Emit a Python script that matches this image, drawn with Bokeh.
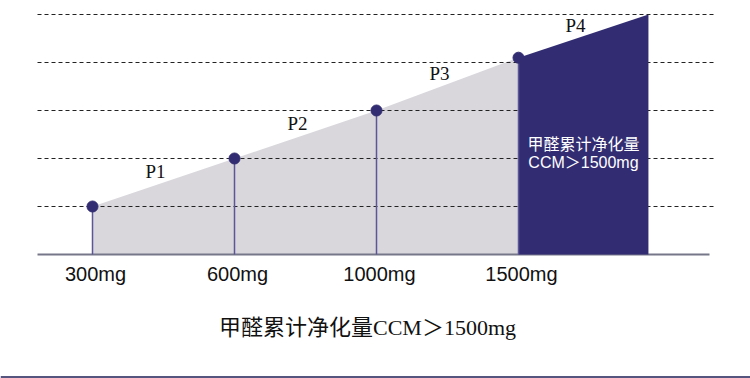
from bokeh.plotting import figure
from bokeh.models import ColumnDataSource, Span, Label
from bokeh.core.properties import value
from bokeh.embed import file_html
from bokeh.resources import INLINE

# ---- data ----
doses = ["300mg", "600mg", "1000mg", "1500mg"]
levels = [1.0, 2.0, 3.0, 4.1]
phase_labels = ["P1", "P2", "P3", "P4"]
end_level = 5.0
grid_levels = [1, 2, 3, 4, 5]
summary_title = "甲醛累计净化量CCM＞1500mg"
box_lines = ["甲醛累计净化量", "CCM＞1500mg"]

# ---- layout constants ----
W, H = 750, 378
px_x = 142.0   # pixels per category step
x0_px = 92.0   # pixel of first category
base_px = 254.0
px_y = 48.0
x_start = -x0_px / px_x
x_end = (W - x0_px) / px_x
y_top = base_px / px_y
y_bot = (base_px - H) / px_y

idx = list(range(len(doses)))
end_x = idx[-1] + 0.915

NAVY = "#322D72"
GRAY = "#D9D7DC"
STEM = "#5B5697"

p = figure(width=W, height=H, x_range=(x_start, x_end), y_range=(y_bot, y_top),
           output_backend="svg", toolbar_location=None, min_border=0,
           x_axis_type=None, y_axis_type=None)
p.grid.visible = False
p.outline_line_color = None
p.background_fill_color = "white"
p.border_fill_color = "white"

# gray area under the line up to the last dose
gx = [idx[0]] + idx + [idx[-1]]
gy = [0] + levels + [0]
p.patch(gx, gy, fill_color=GRAY, line_color=None)

# dashed grid lines
gl_x0 = (37 - x0_px) / px_x
gl_x1 = (713 - x0_px) / px_x
p.multi_line([[gl_x0, gl_x1] for _ in grid_levels], [[g, g] for g in grid_levels],
             line_color="#222222", line_width=1, line_dash="4 3")

# baseline
p.line([gl_x0, (709 - x0_px) / px_x], [0, 0], line_color="#77778a", line_width=2)

# dark block beyond last dose
p.patch([idx[-1], idx[-1], end_x, end_x], [0, levels[-1], end_level, 0],
        fill_color=NAVY, line_color=None)

# stems and points
p.segment(x0=idx, y0=[0] * len(idx), x1=idx, y1=levels, line_color=STEM, line_width=1.5)
p.scatter(idx, levels, size=11, fill_color=NAVY, line_color=NAVY)

# phase labels at segment midpoints
xs_all = idx + [end_x]
ys_all = levels + [end_level]
mx = [(xs_all[i] + xs_all[i + 1]) / 2 for i in range(len(phase_labels))]
my = [(ys_all[i] + ys_all[i + 1]) / 2 for i in range(len(phase_labels))]
p.text(mx, my, text=phase_labels, x_offset=-8, y_offset=-11,
       text_align="center", text_baseline="middle",
       text_font=value("Liberation Serif"), text_font_size="19px", text_color="#111111")

# dose labels
p.text(idx, [0] * len(idx), text=doses, x_offset=3, y_offset=19,
       text_align="center", text_baseline="middle",
       text_font=value("Liberation Sans"), text_font_size="20px", text_color="#111111")

# text inside dark block
bx = (idx[-1] + end_x) / 2
p.text([bx], [2.33], text=[box_lines[0]], text_align="center", text_baseline="middle",
       text_font=value("Noto Sans CJK SC"), text_font_size="16px", text_color="white")
p.text([bx], [1.92], text=[box_lines[1]], text_align="center", text_baseline="middle",
       text_font=value("Liberation Sans, Noto Sans CJK SC"), text_font_size="16px",
       text_color="white")

# bottom title
p.add_layout(Label(x=367, y=H - 327, x_units="screen", y_units="screen",
                   text=summary_title, text_align="center", text_baseline="middle",
                   text_font="Liberation Serif, Noto Sans CJK SC", text_font_size="22px",
                   text_color="#111111"))

# bottom rule
p.add_layout(Span(location=y_bot + 1.5 / px_y, dimension="width",
                  line_color="#55557f", line_width=2))

open("out.html", "w").write(file_html(p, INLINE))
